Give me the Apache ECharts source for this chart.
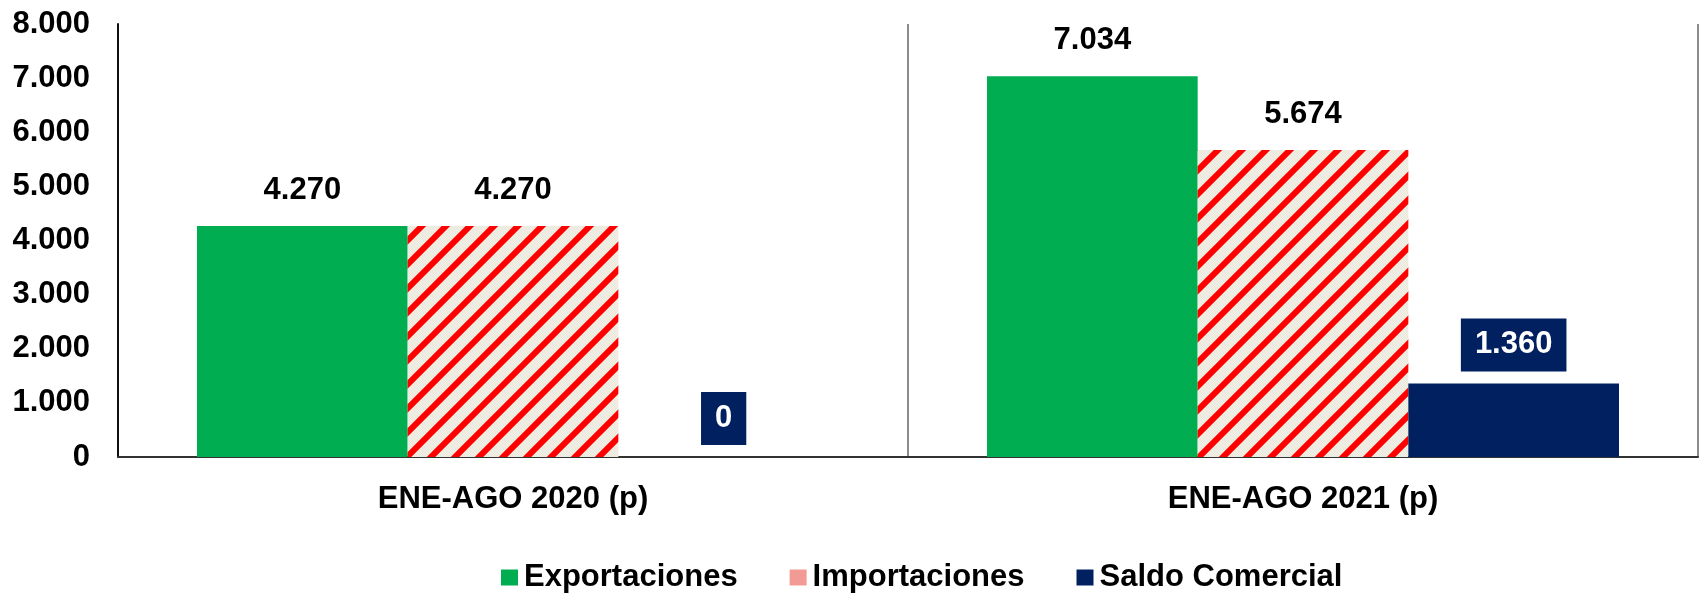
<!DOCTYPE html>
<html>
<head>
<meta charset="utf-8">
<script src="https://cdn.jsdelivr.net/npm/echarts@6/dist/echarts.min.js"></script>
<style>
    html, body { margin: 0; padding: 0; background: #fff; }
    #main { width: 1701px; height: 595px; }
</style>
</head>
<body>
<div id="main"></div>
<script>
var categories = ['ENE-AGO 2020 (p)', 'ENE-AGO 2021 (p)'];
var exportaciones = [4270, 7034];
var importaciones = [4270, 5674];
var saldo = [0, 1360];
var yTicks = [0, 1000, 2000, 3000, 4000, 5000, 6000, 7000, 8000];

var FONT = '"Liberation Sans", Arial, sans-serif';

function fmt(v) {
    // 4270 -> 4.270
    return String(v).replace(/\B(?=(\d{3})+(?!\d))/g, '.');
}

function hatch_pattern() {
    var c = document.createElement('canvas');
    var s = 24;
    c.width = s;
    c.height = s;
    var ctx = c.getContext('2d');
    ctx.fillStyle = '#EEEBE0';
    ctx.fillRect(0, 0, s, s);
    ctx.strokeStyle = '#FF0000';
    ctx.lineWidth = 6;
    ctx.beginPath();
    ctx.moveTo(-s, s); ctx.lineTo(s, -s);
    ctx.moveTo(0, s * 2); ctx.lineTo(s * 2, 0);
    ctx.moveTo(-s / 2, s * 1.5); ctx.lineTo(s * 1.5, -s / 2);
    ctx.stroke();
    return c;
}

var chart = echarts.init(document.getElementById('main'));

var valueLabel = {
    show: true,
    position: 'top',
    distance: 20,
    fontFamily: FONT,
    fontWeight: 'bold',
    fontSize: 31,
    color: '#000',
    formatter: function(p) { return fmt(p.value); }
};

chart.setOption({
    animation: false,
    backgroundColor: '#fff',
    grid: { left: 118, right: 3, top: 24, bottom: 138 },
    legend: {
        left: 496,
        top: 557,
        itemWidth: 17,
        itemHeight: 16,
        itemGap: 52,
        icon: 'rect',
        textStyle: {
            fontFamily: FONT,
            fontWeight: 'bold',
            fontSize: 31,
            color: '#000',
            padding: [0, 0, 0, 1]
        },
        data: [
            { name: 'Exportaciones' },
            { name: 'Importaciones', itemStyle: { color: '#F29B94' } },
            { name: 'Saldo Comercial' }
        ]
    },
    xAxis: {
        type: 'category',
        data: categories,
        axisLine: { lineStyle: { color: '#333', width: 2 } },
        axisTick: { show: false },
        splitLine: { show: true, lineStyle: { color: '#8c8c8c', width: 2 } },
        axisLabel: {
            margin: 27,
            fontFamily: FONT,
            fontWeight: 'bold',
            fontSize: 31,
            color: '#000'
        }
    },
    yAxis: {
        type: 'value',
        min: yTicks[0],
        max: yTicks[yTicks.length - 1],
        interval: 1000,
        axisLine: { show: true, lineStyle: { color: '#111', width: 2 } },
        axisTick: { show: false },
        splitLine: { show: false },
        axisLabel: {
            margin: 28,
            fontFamily: FONT,
            fontWeight: 'bold',
            fontSize: 31,
            color: '#000',
            formatter: function(v) { return fmt(v); }
        }
    },
    series: [{
        name: 'Exportaciones',
        type: 'bar',
        data: exportaciones,
        barGap: '0%',
        barCategoryGap: '20%',
        itemStyle: { color: '#00AD50' },
        label: valueLabel
    }, {
        name: 'Importaciones',
        type: 'bar',
        data: importaciones,
        itemStyle: { color: { image: hatch_pattern(), repeat: 'repeat' } },
        label: valueLabel
    }, {
        name: 'Saldo Comercial',
        type: 'bar',
        data: saldo,
        itemStyle: { color: '#002060' },
        label: {
            show: true,
            position: 'top',
            distance: 12,
            fontFamily: FONT,
            fontWeight: 'bold',
            fontSize: 31,
            color: '#fff',
            backgroundColor: '#002060',
            padding: [11, 14],
            formatter: function(p) { return fmt(p.value); }
        }
    }]
});
</script>
</body>
</html>
